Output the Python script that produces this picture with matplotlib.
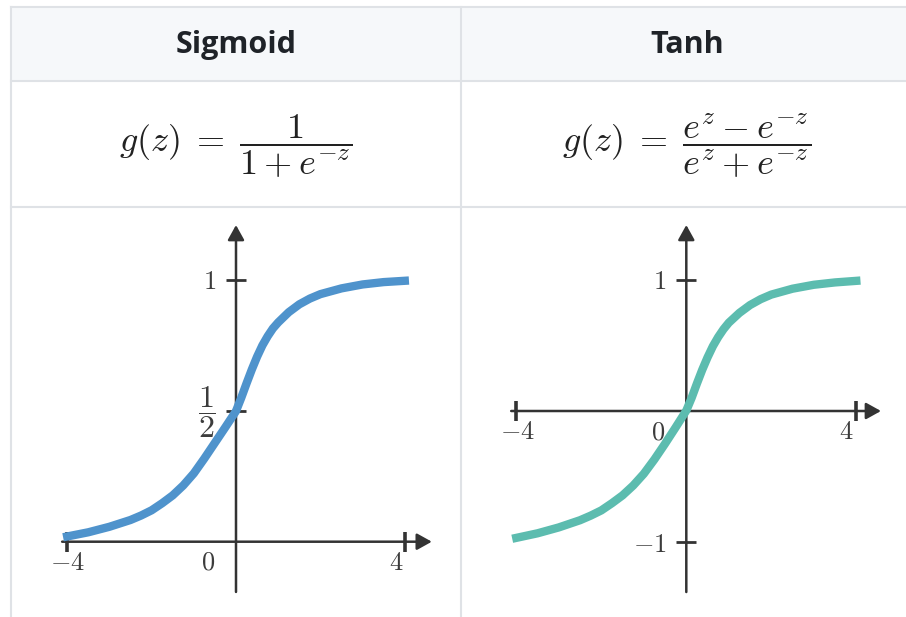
import matplotlib
matplotlib.use("Agg")
import matplotlib.pyplot as plt
from matplotlib.patches import Rectangle
from matplotlib.lines import Line2D

plt.rcParams["mathtext.fontset"] = "cm"

# ---- content ----
titles = ["Sigmoid", "Tanh"]
formulas = [
    r"$g(z)\;=\;\dfrac{1}{1+e^{-z}}$",
    r"$g(z)\;=\;\dfrac{e^{z}-e^{-z}}{e^{z}+e^{-z}}$",
]

z = [-4, -3.5, -3, -2.5, -2.25, -2, -1.75, -1.5, -1.25, -1, -0.75, -0.5, -0.25, 0,
     0.125, 0.25, 0.375, 0.5, 0.625, 0.75, 0.875, 1, 1.25, 1.5, 1.75, 2,
     2.5, 3, 3.5, 4]
sigmoid_g = [0.02, 0.036, 0.057, 0.083, 0.10, 0.12, 0.147, 0.177, 0.215, 0.261,
             0.318, 0.378, 0.438, 0.499, 0.55, 0.605, 0.658, 0.707, 0.75, 0.785,
             0.815, 0.838, 0.877, 0.907, 0.929, 0.946, 0.968, 0.983, 0.992, 0.997]
tanh_g = [-0.97, -0.935, -0.89, -0.835, -0.80, -0.76, -0.705, -0.645, -0.57, -0.48,
          -0.37, -0.25, -0.125, 0.003, 0.1, 0.21, 0.315, 0.41, 0.495, 0.565,
          0.625, 0.675, 0.75, 0.81, 0.855, 0.89, 0.935, 0.965, 0.983, 0.995]

sigmoid_xticks = [-4, 4]
sigmoid_xlabels = [r"$-4$", r"$4$"]
sigmoid_yticks = [0.5, 1]
sigmoid_ylabels = [r"$\dfrac{1}{2}$", r"$1$"]

tanh_xticks = [-4, 4]
tanh_xlabels = [r"$-4$", r"$4$"]
tanh_yticks = [-1, 1]
tanh_ylabels = [r"$-1$", r"$1$"]

origin_label = r"$0$"

# ---- figure / table ----
W, H = 906, 617
fig = plt.figure(figsize=(W / 100, H / 100), dpi=100)
fig.patch.set_facecolor("white")


def fx(x):
    return x / W


def fy(y):
    return 1 - y / H


border = "#dfe2e6"
left, right, top = 11, 913, 7
row1, row2, col = 80.5, 207, 460.7

fig.patches.append(Rectangle((fx(left), fy(row1)), fx(right - left), (row1 - top) / H,
                             transform=fig.transFigure, facecolor="#f6f8fa",
                             edgecolor="none", zorder=0))
for y in (top, row1, row2):
    fig.lines.append(Line2D([fx(left), fx(right)], [fy(y), fy(y)],
                            transform=fig.transFigure, color=border, lw=1.5))
for x in (left, col):
    fig.lines.append(Line2D([fx(x), fx(x)], [fy(top), fy(H + 5)],
                            transform=fig.transFigure, color=border, lw=1.5))

col_centers = [(left + col) / 2, (col + right) / 2]
for cx, t in zip(col_centers, titles):
    fig.text(fx(cx), fy(45), t, ha="center", va="center", fontsize=22,
             fontweight="bold", family="Open Sans", color="#1f2328")
for cx, f in zip(col_centers, formulas):
    fig.text(fx(cx), fy(146), f, ha="center", va="center", fontsize=26,
             color="#222222")

# ---- plot panels ----
axis_color = "#333333"
label_color = "#3c3c3c"
label_size = 19


def panel(box, x0px, xunit, y0px, yunit):
    l, t, r, b = box
    ax = fig.add_axes([fx(l), fy(b), (r - l) / W, (b - t) / H])
    ax.set_xlim((l - x0px) / xunit, (r - x0px) / xunit)
    ax.set_ylim((y0px - b) / yunit, (y0px - t) / yunit)
    ax.axis("off")
    return ax


def arrow(ax, start, tip):
    ax.annotate("", xy=tip, xytext=start,
                arrowprops=dict(arrowstyle="-|>,head_length=0.45,head_width=0.25",
                                color=axis_color, lw=1.8, mutation_scale=20,
                                shrinkA=0, shrinkB=0), zorder=2)


def draw(ax, gvals, color, xspan, yspan, xticks, xlabels, xdx,
         yticks, ylabels, ydy, ysizes):
    arrow(ax, (xspan[0], 0), (xspan[1], 0))
    arrow(ax, (0, yspan[0]), (0, yspan[1]))
    ax.plot(xticks, [0] * len(xticks), ls="none", marker="|", markersize=15,
            mew=2.6, color=axis_color, zorder=3)
    ax.plot([0] * len(yticks), yticks, ls="none", marker="_", markersize=15,
            mew=2.0, color=axis_color, zorder=3)
    ax.plot(z, gvals, color=color, lw=6, solid_capstyle="projecting",
            solid_joinstyle="round", zorder=4)
    for t, s, dx in zip(xticks, xlabels, xdx):
        ax.annotate(s, (t, 0), xytext=(dx, -21), textcoords="offset pixels",
                    ha="center", va="center", fontsize=label_size, color=label_color)
    for t, s, dy, fs in zip(yticks, ylabels, ydy, ysizes):
        ax.annotate(s, (0, t), xytext=(-20, dy), textcoords="offset pixels",
                    ha="right", va="center", fontsize=fs, color=label_color)
    ax.annotate(origin_label, (0, 0), xytext=(-28, -21), textcoords="offset pixels",
                ha="center", va="center", fontsize=label_size, color=label_color)


ax1 = panel((20, 212, 450, 612), 236.0, 42.2, 541.7, 261.7)
draw(ax1, sigmoid_g, "#4f93cc", (-4.12, 4.64), (-0.192, 1.21),
     sigmoid_xticks, sigmoid_xlabels, [0, -9],
     sigmoid_yticks, sigmoid_ylabels, [-1, -2], [23, label_size])

ax2 = panel((470, 212, 900, 612), 686.3, 42.5, 411.0, 130.8)
draw(ax2, tanh_g, "#5cbcaf", (-4.12, 4.58), (-1.384, 1.422),
     tanh_xticks, tanh_xlabels, [1, -10],
     tanh_yticks, tanh_ylabels, [-3, -2], [label_size, label_size])

fig.savefig("out.png", dpi=100)
